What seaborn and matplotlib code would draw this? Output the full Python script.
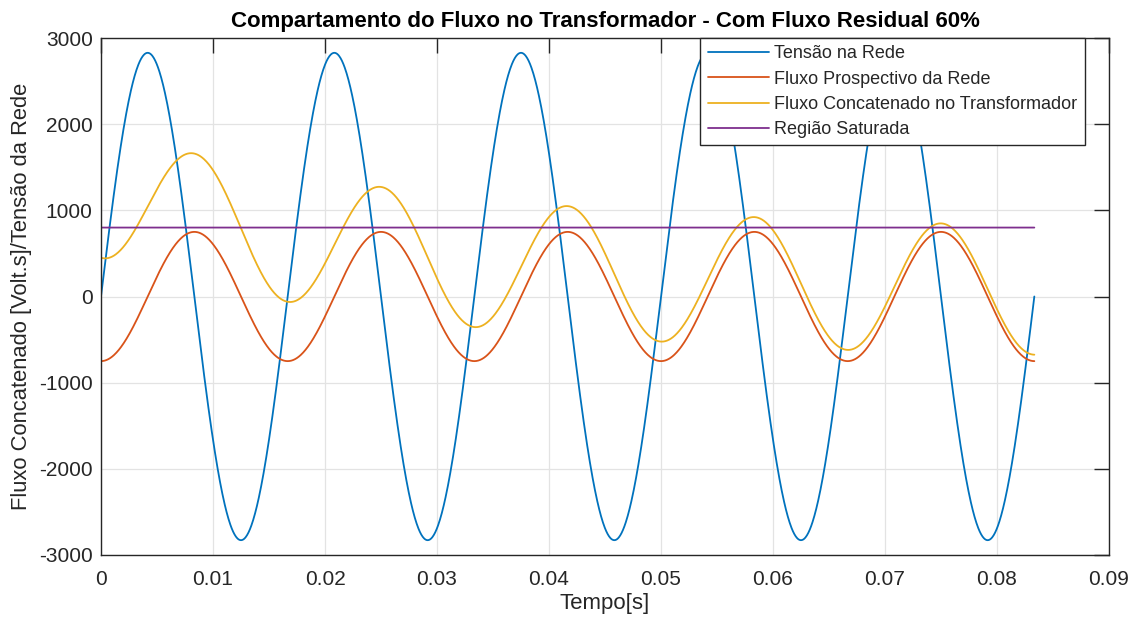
import numpy as np
import pandas as pd
import matplotlib
matplotlib.use("Agg")
import matplotlib.pyplot as plt
import seaborn as sns

# Transformer energization model parameters
FREQ_HZ = 60.0
T_END = 5 / 60.0          # five cycles
V_PEAK = 2828.0           # grid voltage amplitude
FLUX_PEAK = 750.0         # prospective flux amplitude
RESIDUAL = 0.60           # residual flux fraction
TAU = 0.030               # decay time constant of the DC flux offset [s]
SAT_LEVEL = 800.0         # saturation knee

series_names = [
    "Tensão na Rede",
    "Fluxo Prospectivo da Rede",
    "Fluxo Concatenado no Transformador",
    "Região Saturada",
]
series_colors = ["#0072BD", "#D95319", "#EDB120", "#7E2F8E"]

x_ticks = [0, 0.01, 0.02, 0.03, 0.04, 0.05, 0.06, 0.07, 0.08, 0.09]
x_tick_labels = ["0", "0.01", "0.02", "0.03", "0.04", "0.05", "0.06", "0.07", "0.08", "0.09"]
y_ticks = [-3000, -2000, -1000, 0, 1000, 2000, 3000]
y_tick_labels = ["-3000", "-2000", "-1000", "0", "1000", "2000", "3000"]

# Waveforms
t = np.linspace(0, T_END, 2000)
w = 2 * np.pi * FREQ_HZ
voltage = V_PEAK * np.sin(w * t)
flux_prosp = -FLUX_PEAK * np.cos(w * t)
flux_link = flux_prosp + (RESIDUAL * FLUX_PEAK + FLUX_PEAK) * np.exp(-t / TAU)
saturation = np.full_like(t, SAT_LEVEL)

df = pd.concat([
    pd.DataFrame({"t": t, "v": y, "serie": name})
    for name, y in zip(series_names, [voltage, flux_prosp, flux_link, saturation])
], ignore_index=True)

sns.set_theme(style="white")
plt.rcParams["font.family"] = ["Liberation Sans", "DejaVu Sans"]

fig = plt.figure(figsize=(11.42, 6.19), dpi=100)
ax = fig.add_axes([101 / 1142, 1 - 555 / 619, (1109 - 101) / 1142, (555 - 38) / 619])

sns.lineplot(data=df, x="t", y="v", hue="serie", hue_order=series_names,
             palette=series_colors, linewidth=1.3, ax=ax, sort=False,
             estimator=None, legend=True)

ax.set_xlim(0, 0.09)
ax.set_ylim(-3000, 3000)
ax.set_xticks(x_ticks)
ax.set_xticklabels(x_tick_labels)
ax.set_yticks(y_ticks)
ax.set_yticklabels(y_tick_labels)

ax.grid(True, color="#e3e3e3", linewidth=0.9)
ax.set_axisbelow(True)
for s in ax.spines.values():
    s.set_color("#262626")
    s.set_linewidth(1.0)
    s.set_visible(True)
ax.tick_params(direction="in", length=11, width=1.0, color="#262626",
               top=True, right=True, labelsize=15, labelcolor="#262626", pad=6)
ax.tick_params(axis="x", pad=11)

ax.set_title("Compartamento do Fluxo no Transformador - Com Fluxo Residual 60%",
             fontsize=16, fontweight="bold", color="black", pad=8)
ax.set_xlabel("Tempo[s]", fontsize=16, color="#262626", labelpad=3)
ax.set_ylabel("Fluxo Concatenado [Volt.s]/Tensão da Rede", fontsize=15.8,
              color="#262626", labelpad=5)

leg = ax.legend(loc="upper right", bbox_to_anchor=(0.976, 1.0), fontsize=13,
                frameon=True, fancybox=False, framealpha=1, edgecolor="#262626",
                handlelength=3.4, handletextpad=0.3, borderpad=0.4,
                labelspacing=0.46, borderaxespad=0.0)
leg.get_frame().set_linewidth(1.0)
for line in leg.get_lines():
    line.set_linewidth(1.3)

fig.savefig("out.png", dpi=100)
